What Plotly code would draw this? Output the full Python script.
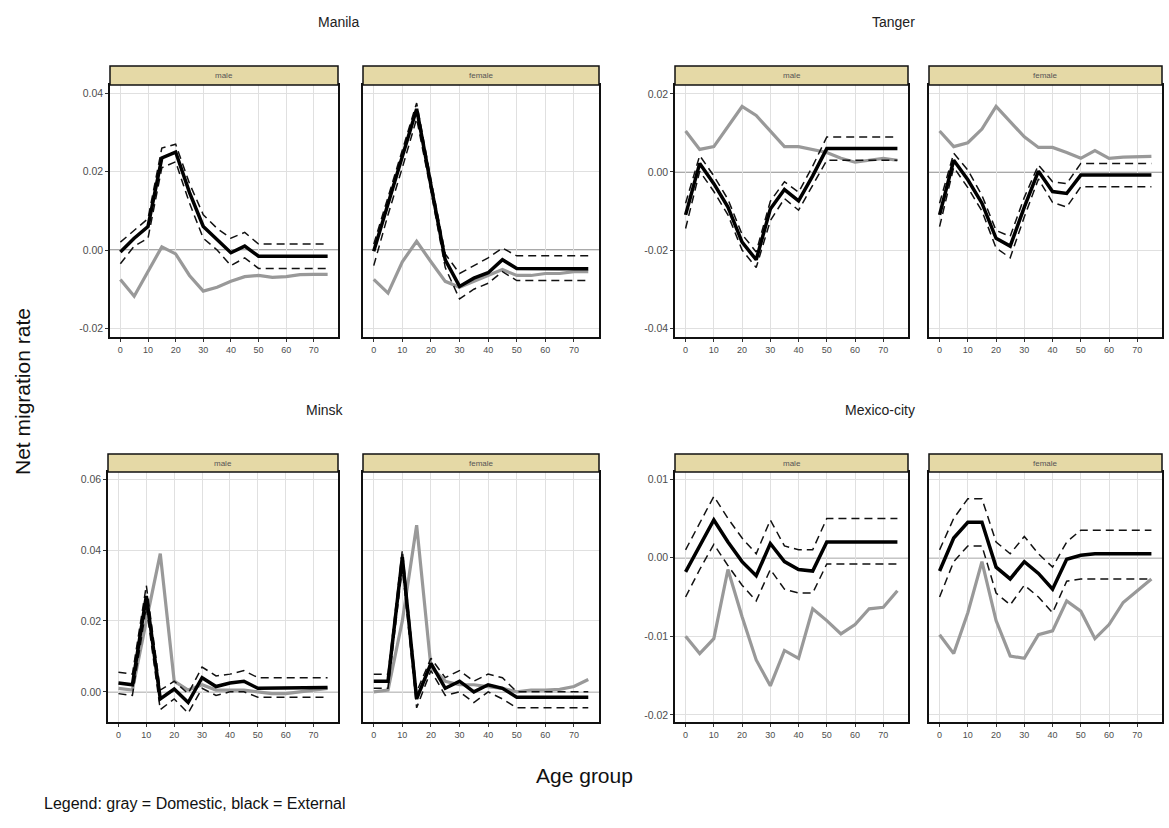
import plotly.graph_objects as go

ages = [0, 5, 10, 15, 20, 25, 30, 35, 40, 45, 50, 55, 60, 65, 70, 75]
cities = ["Manila", "Tanger", "Minsk", "Mexico-city"]
sexes = ["male", "female"]

# ---- Manila ----
manila_male_ext = [-0.0005, 0.003, 0.006, 0.0235, 0.025, 0.0147, 0.006, 0.0027, -0.0007, 0.001, -0.0016, -0.0016, -0.0016, -0.0016, -0.0016, -0.0016]
manila_male_up = [0.002, 0.005, 0.008, 0.026, 0.027, 0.017, 0.009, 0.0055, 0.003, 0.0045, 0.0015, 0.0015, 0.0015, 0.0015, 0.0015, 0.0015]
manila_male_lo = [-0.0035, 0.001, 0.003, 0.021, 0.0225, 0.012, 0.003, 0.0, -0.004, -0.002, -0.0047, -0.0047, -0.0047, -0.0047, -0.0047, -0.0047]
manila_male_dom = [-0.0075, -0.0118, -0.0055, 0.0008, -0.001, -0.0065, -0.0105, -0.0095, -0.008, -0.0068, -0.0065, -0.007, -0.0068, -0.0063, -0.0062, -0.0062]

manila_female_ext = [-0.0003, 0.0118, 0.024, 0.036, 0.0165, -0.0025, -0.0093, -0.0072, -0.0058, -0.0025, -0.0047, -0.0048, -0.0048, -0.0048, -0.0048, -0.0048]
manila_female_up = [0.0015, 0.0135, 0.0255, 0.0375, 0.018, -0.001, -0.006, -0.004, -0.002, 0.0005, -0.0015, -0.0015, -0.0015, -0.0015, -0.0015, -0.0015]
manila_female_lo = [-0.004, 0.009, 0.021, 0.0335, 0.015, -0.0045, -0.0125, -0.010, -0.0085, -0.0055, -0.0078, -0.0078, -0.0078, -0.0078, -0.0078, -0.0078]
manila_female_dom = [-0.0075, -0.011, -0.003, 0.0022, -0.003, -0.008, -0.0095, -0.008, -0.0065, -0.005, -0.0065, -0.0065, -0.006, -0.006, -0.0055, -0.0055]

# ---- Tanger ----
tanger_male_ext = [-0.011, 0.0022, -0.003, -0.009, -0.018, -0.0225, -0.0095, -0.0045, -0.0074, -0.001, 0.006, 0.006, 0.006, 0.006, 0.006, 0.006]
tanger_male_up = [-0.008, 0.0042, -0.001, -0.007, -0.016, -0.0205, -0.0075, -0.0025, -0.0052, 0.0015, 0.009, 0.009, 0.009, 0.009, 0.009, 0.009]
tanger_male_lo = [-0.0145, 0.0002, -0.005, -0.011, -0.020, -0.0245, -0.0125, -0.0068, -0.0098, -0.0035, 0.003, 0.003, 0.003, 0.003, 0.003, 0.003]
tanger_male_dom = [0.0105, 0.0058, 0.0065, 0.0115, 0.0168, 0.0145, 0.0105, 0.0065, 0.0065, 0.0058, 0.005, 0.0035, 0.0025, 0.003, 0.0035, 0.003]

tanger_female_ext = [-0.011, 0.003, -0.002, -0.008, -0.017, -0.019, -0.009, 0.0002, -0.005, -0.0055, -0.0008, -0.0008, -0.0008, -0.0008, -0.0008, -0.0008]
tanger_female_up = [-0.008, 0.0048, 0.0005, -0.006, -0.015, -0.0165, -0.0065, 0.0018, -0.0025, -0.003, 0.0022, 0.0022, 0.0022, 0.0022, 0.0022, 0.0022]
tanger_female_lo = [-0.014, 0.0012, -0.004, -0.010, -0.0195, -0.022, -0.0115, -0.0018, -0.0078, -0.009, -0.0038, -0.0038, -0.0038, -0.0038, -0.0038, -0.0038]
tanger_female_dom = [0.0105, 0.0065, 0.0075, 0.011, 0.0168, 0.013, 0.009, 0.0063, 0.0063, 0.005, 0.0035, 0.0055, 0.0035, 0.0038, 0.004, 0.004]

# ---- Minsk ----
minsk_male_ext = [0.0025, 0.002, 0.027, -0.002, 0.0008, -0.003, 0.004, 0.0015, 0.0025, 0.003, 0.001, 0.001, 0.001, 0.001, 0.0012, 0.0012]
minsk_male_up = [0.0055, 0.005, 0.030, 0.0005, 0.003, -0.0005, 0.007, 0.0045, 0.005, 0.006, 0.004, 0.004, 0.004, 0.004, 0.004, 0.004]
minsk_male_lo = [-0.0005, -0.001, 0.024, -0.005, -0.002, -0.006, 0.001, -0.001, 0.0, 0.0, -0.0015, -0.0015, -0.0015, -0.0015, -0.0015, -0.0015]
minsk_male_dom = [0.001, 0.0005, 0.02, 0.039, 0.003, 0.0005, 0.002, 0.0005, 0.0005, 0.0005, 0.0, -0.0005, -0.0005, 0.0, 0.0005, 0.001]

minsk_female_ext = [0.003, 0.003, 0.038, -0.002, 0.008, 0.001, 0.003, 0.0, 0.002, 0.001, -0.0015, -0.0015, -0.0015, -0.0015, -0.0015, -0.0015]
minsk_female_up = [0.005, 0.005, 0.040, 0.0, 0.0095, 0.004, 0.006, 0.003, 0.005, 0.004, 0.0, 0.0, 0.0, 0.0, 0.0, 0.0]
minsk_female_lo = [0.001, 0.001, 0.035, -0.0045, 0.006, -0.001, 0.0, -0.003, 0.0, -0.002, -0.0045, -0.0045, -0.0045, -0.0045, -0.0045, -0.0045]
minsk_female_dom = [0.0, 0.0005, 0.02, 0.047, 0.007, 0.003, 0.002, 0.002, 0.0015, 0.001, 0.0, 0.0005, 0.0005, 0.0007, 0.0015, 0.0035]

# ---- Mexico-city ----
mexico_male_ext = [-0.0018, 0.0015, 0.0048, 0.002, -0.0005, -0.0023, 0.0018, -0.0005, -0.0015, -0.0017, 0.002, 0.002, 0.002, 0.002, 0.002, 0.002]
mexico_male_up = [0.001, 0.0045, 0.0078, 0.005, 0.0025, 0.0005, 0.0048, 0.0015, 0.001, 0.001, 0.005, 0.005, 0.005, 0.005, 0.005, 0.005]
mexico_male_lo = [-0.005, -0.0015, 0.0017, -0.001, -0.0035, -0.0055, -0.0015, -0.004, -0.0045, -0.0045, -0.0008, -0.0008, -0.0008, -0.0008, -0.0008, -0.0008]
mexico_male_dom = [-0.010, -0.0122, -0.0103, -0.0015, -0.0075, -0.013, -0.0163, -0.0118, -0.0128, -0.0065, -0.008, -0.0097, -0.0085, -0.0065, -0.0063, -0.0042]

mexico_female_ext = [-0.0017, 0.0025, 0.0045, 0.0045, -0.0012, -0.0027, -0.0005, -0.002, -0.004, -0.0002, 0.0003, 0.0005, 0.0005, 0.0005, 0.0005, 0.0005]
mexico_female_up = [0.001, 0.005, 0.0075, 0.0075, 0.002, 0.0005, 0.0027, 0.0005, -0.0012, 0.002, 0.0035, 0.0035, 0.0035, 0.0035, 0.0035, 0.0035]
mexico_female_lo = [-0.005, -0.0005, 0.0015, 0.0015, -0.0045, -0.006, -0.0035, -0.005, -0.007, -0.003, -0.0027, -0.0027, -0.0027, -0.0027, -0.0027, -0.0027]
mexico_female_dom = [-0.0098, -0.0122, -0.007, -0.0005, -0.008, -0.0125, -0.0128, -0.0098, -0.0093, -0.0055, -0.0068, -0.0103, -0.0085, -0.0057, -0.0042, -0.0027]

# tick labels
x_ticks = [0, 10, 20, 30, 40, 50, 60, 70]
manila_yticks = [-0.02, 0.0, 0.02, 0.04]
tanger_yticks = [-0.04, -0.02, 0.0, 0.02]
minsk_yticks = [0.0, 0.02, 0.04, 0.06]
mexico_yticks = [-0.02, -0.01, 0.0, 0.01]

panels = [
    ("Manila", "male", manila_male_ext, manila_male_up, manila_male_lo, manila_male_dom),
    ("Manila", "female", manila_female_ext, manila_female_up, manila_female_lo, manila_female_dom),
    ("Tanger", "male", tanger_male_ext, tanger_male_up, tanger_male_lo, tanger_male_dom),
    ("Tanger", "female", tanger_female_ext, tanger_female_up, tanger_female_lo, tanger_female_dom),
    ("Minsk", "male", minsk_male_ext, minsk_male_up, minsk_male_lo, minsk_male_dom),
    ("Minsk", "female", minsk_female_ext, minsk_female_up, minsk_female_lo, minsk_female_dom),
    ("Mexico-city", "male", mexico_male_ext, mexico_male_up, mexico_male_lo, mexico_male_dom),
    ("Mexico-city", "female", mexico_female_ext, mexico_female_up, mexico_female_lo, mexico_female_dom),
]

yinfo = {
    "Manila": (manila_yticks, [-0.0222, 0.0421], 0),
    "Tanger": (tanger_yticks, [-0.0423, 0.0223], 0),
    "Minsk": (minsk_yticks, [-0.0085, 0.062], 1),
    "Mexico-city": (mexico_yticks, [-0.0209, 0.0109], 1),
}

W, H = 1169, 828
col_px = {("Manila", "male"): (110, 338), ("Manila", "female"): (363, 599),
          ("Tanger", "male"): (675, 908), ("Tanger", "female"): (929, 1162),
          ("Minsk", "male"): (108, 338), ("Minsk", "female"): (363, 599),
          ("Mexico-city", "male"): (675, 908), ("Mexico-city", "female"): (929, 1162)}
row_px = [(85, 337), (472, 722)]
strip_px = [(66, 85), (454, 472)]

GRAY = "#999999"
FONT = "Liberation Sans, Arial"
fig = go.Figure()
layout = {}
shapes = []
annotations = []

for i, (city, sex, ext, up, lo, dom) in enumerate(panels):
    n = i + 1
    xa = "x" if n == 1 else f"x{n}"
    ya = "y" if n == 1 else f"y{n}"
    xk = "xaxis" if n == 1 else f"xaxis{n}"
    yk = "yaxis" if n == 1 else f"yaxis{n}"
    yt, yr, row = yinfo[city]
    x0, x1 = col_px[(city, sex)]
    r0, r1 = row_px[row]
    layout[xk] = dict(
        domain=[x0 / W, x1 / W], anchor=ya, range=[-3.75, 78.75],
        tickvals=x_ticks, ticktext=[str(v) for v in x_ticks],
        ticks="outside", ticklen=3, tickcolor="#333333", tickwidth=1,
        tickfont=dict(family=FONT, size=9, color="#4D4D4D"),
        showgrid=True, gridcolor="#E0E0E0", gridwidth=1,
        showline=True, mirror=True, linecolor="#111111", linewidth=1.5,
        zeroline=False, fixedrange=True,
    )
    layout[yk] = dict(
        domain=[1 - r1 / H, 1 - r0 / H], anchor=xa, range=yr,
        tickvals=yt, ticktext=[f"{v:.2f}" for v in yt],
        showticklabels=(sex == "male"),
        ticks="outside" if sex == "male" else "", ticklen=3, tickcolor="#333333", tickwidth=1,
        tickfont=dict(family=FONT, size=10.5, color="#4D4D4D"),
        showgrid=True, gridcolor="#E0E0E0", gridwidth=1,
        showline=True, mirror=True, linecolor="#111111", linewidth=1.5,
        zeroline=False, fixedrange=True,
    )
    # zero reference line
    shapes.append(dict(type="line", xref=f"{xa} domain", yref=ya, x0=0, x1=1, y0=0, y1=0,
                       line=dict(color="#8C8C8C", width=1.5), layer="below"))
    # strip
    s0, s1 = strip_px[row]
    shapes.append(dict(type="rect", xref="paper", yref="paper",
                       x0=x0 / W, x1=x1 / W, y0=1 - s1 / H, y1=1 - s0 / H,
                       fillcolor="#E5D9A6", line=dict(color="#111111", width=1.5)))
    annotations.append(dict(text=sex, xref="paper", yref="paper",
                            x=(x0 + x1) / 2 / W, y=1 - (s0 + s1) / 2 / H,
                            showarrow=False, xanchor="center", yanchor="middle",
                            font=dict(family=FONT, size=8, color="#555555")))
    fig.add_trace(go.Scatter(x=ages, y=dom, mode="lines", xaxis=xa, yaxis=ya,
                             line=dict(color=GRAY, width=3.2), showlegend=False, hoverinfo="skip"))
    for band in (up, lo):
        fig.add_trace(go.Scatter(x=ages, y=band, mode="lines", xaxis=xa, yaxis=ya,
                                 line=dict(color="#111111", width=1.5, dash="8px,5px"),
                                 showlegend=False, hoverinfo="skip"))
    fig.add_trace(go.Scatter(x=ages, y=ext, mode="lines", xaxis=xa, yaxis=ya,
                             line=dict(color="#000000", width=3.5), showlegend=False, hoverinfo="skip"))

# city titles
title_pos = {"Manila": (338, 22), "Tanger": (893, 22), "Minsk": (325, 410), "Mexico-city": (880, 410)}
for city in cities:
    px, py = title_pos[city]
    annotations.append(dict(text=city, xref="paper", yref="paper", x=px / W, y=1 - py / H,
                            showarrow=False, xanchor="center", yanchor="middle",
                            font=dict(family=FONT, size=14, color="#222222")))

annotations.append(dict(text="Net migration rate", xref="paper", yref="paper", x=22 / W, y=1 - 392 / H,
                        showarrow=False, textangle=-90, xanchor="center", yanchor="middle",
                        font=dict(family=FONT, size=21, color="#111111")))
annotations.append(dict(text="Age group", xref="paper", yref="paper", x=584 / W, y=1 - 775 / H,
                        showarrow=False, xanchor="center", yanchor="middle",
                        font=dict(family=FONT, size=21, color="#111111")))
annotations.append(dict(text="Legend: gray = Domestic, black = External", xref="paper", yref="paper",
                        x=42 / W, y=1 - 803 / H, showarrow=False, xanchor="left", yanchor="middle",
                        font=dict(family=FONT, size=16, color="#111111")))

fig.update_layout(**layout)
fig.update_layout(width=W, height=H, margin=dict(l=0, r=0, t=0, b=0),
                  paper_bgcolor="white", plot_bgcolor="white",
                  shapes=shapes, annotations=annotations, showlegend=False)
fig.write_html("out.html", config={"displayModeBar": False})
